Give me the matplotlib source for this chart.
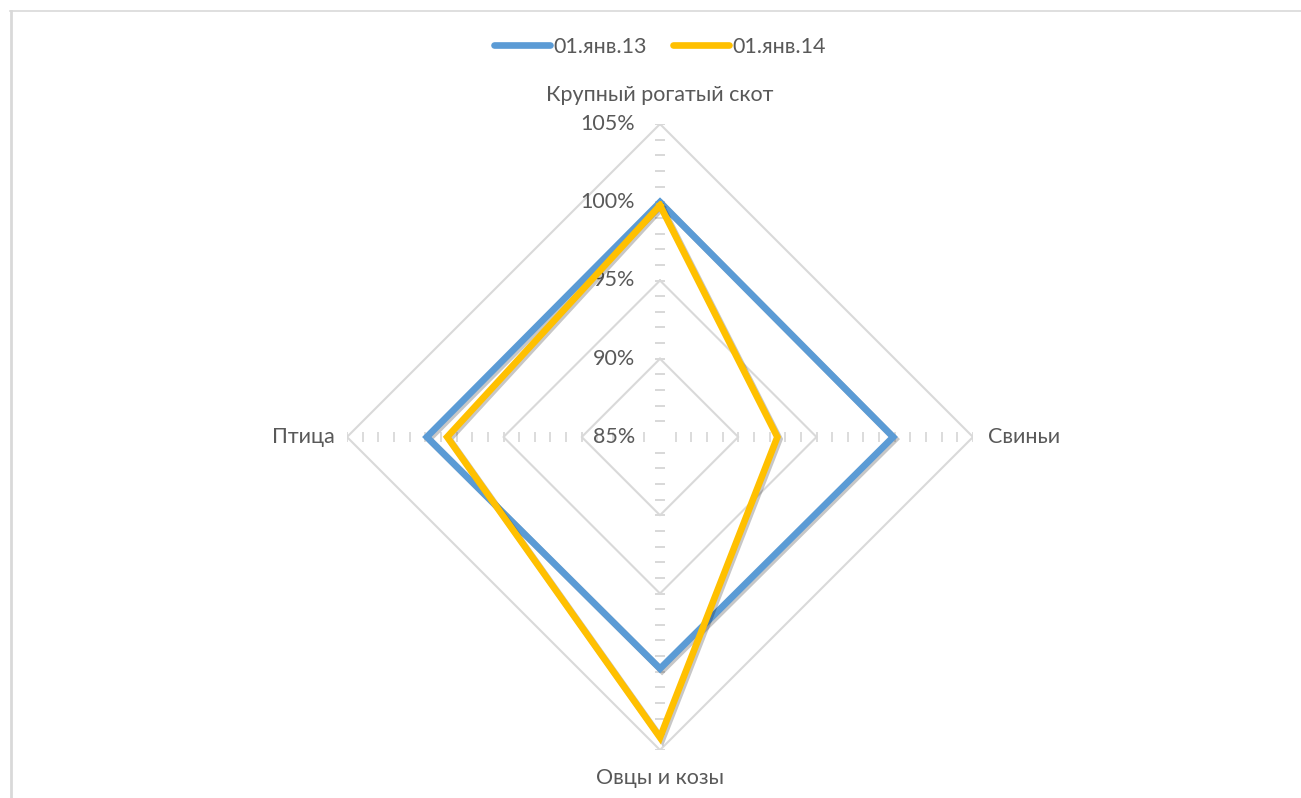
import numpy as np
import matplotlib
matplotlib.use('Agg')
import matplotlib.pyplot as plt
import matplotlib.patheffects as pe
from matplotlib.lines import Line2D

plt.rcParams['font.family'] = ['Lato', 'DejaVu Sans']

# data
categories = ['Крупный рогатый скот', 'Свиньи', 'Овцы и козы', 'Птица']
series_names = ['01.янв.13', '01.янв.14']
jan13 = [100.0, 99.9, 99.8, 99.9]
jan14 = [99.8, 92.5, 104.2, 98.6]
levels = [85, 90, 95, 100, 105]
level_labels = ['85%', '90%', '95%', '100%', '105%']

blue = '#5B9BD5'
yellow = '#FFC000'
grid_c = '#D9D9D9'
text_c = '#595959'
fs = 15.5

W, H = 1301, 798
fig = plt.figure(figsize=(W / 100, H / 100), dpi=100)

# chart frame (only top and left visible)
fig.add_artist(Line2D([10 / W, 1], [1 - 11 / H, 1 - 11 / H], color=grid_c, lw=1.2))
fig.add_artist(Line2D([11 / W, 11 / W], [0, 1 - 11 / H], color=grid_c, lw=2))

cx, cy, R = 660, 437, 313
ax = fig.add_axes([(cx - R) / W, (H - cy - R) / H, 2 * R / W, 2 * R / H], projection='polar')
ax.set_theta_zero_location('N')
ax.set_theta_direction(-1)
ax.set_ylim(85, 105)
ax.grid(False)
ax.spines['polar'].set_visible(False)
ax.set_xticks([])
ax.set_yticks([])
ax.patch.set_alpha(0)

n = len(categories)
theta = np.arange(n) * 2 * np.pi / n
theta_closed = np.append(theta, theta[0])

# diamond grid
for lv in levels[1:]:
    ax.plot(theta_closed, [lv] * (n + 1), color=grid_c, lw=1.5, zorder=1)

# minor tick dashes along spokes (every 1%)
minor = np.arange(86, 106, 1)
for i, t in enumerate(theta):
    mk = '_' if i % 2 == 0 else '|'
    ax.plot([t] * len(minor), minor, ls='none', marker=mk, ms=7.5, mew=1.3,
            color=grid_c, zorder=1)

# value labels along top spoke
for lv, lab in zip(levels, level_labels):
    ax.annotate(lab, xy=(0, lv), xytext=(-18, 0), textcoords='offset points',
                ha='right', va='center', fontsize=fs, color=text_c)

shadow = [pe.SimpleLineShadow(offset=(1.5, -1.5), shadow_color='#000000', alpha=0.22), pe.Normal()]
ax.plot(theta_closed, jan13 + jan13[:1], color=blue, lw=4.8, solid_joinstyle='miter',
        zorder=3, path_effects=shadow, label=series_names[0])
ax.plot(theta_closed, jan14 + jan14[:1], color=yellow, lw=4.8, solid_joinstyle='miter',
        zorder=4, path_effects=shadow, label=series_names[1])

# category labels
ax.annotate(categories[0], xy=(0, 105), xytext=(0, 21), textcoords='offset points',
            ha='center', va='center', fontsize=fs, color=text_c)
ax.annotate(categories[1], xy=(theta[1], 105), xytext=(11, 0), textcoords='offset points',
            ha='left', va='center', fontsize=fs, color=text_c)
ax.annotate(categories[2], xy=(theta[2], 105), xytext=(0, -20), textcoords='offset points',
            ha='center', va='center', fontsize=fs, color=text_c)
ax.annotate(categories[3], xy=(theta[3], 105), xytext=(-9, 0), textcoords='offset points',
            ha='right', va='center', fontsize=fs, color=text_c)

leg = fig.legend(loc='center', bbox_to_anchor=(cx / W, 1 - 47 / H), ncol=2, frameon=False,
                 fontsize=fs, handlelength=2.6, handletextpad=0.15, columnspacing=1.2,
                 labelcolor=text_c)
for h in leg.legend_handles:
    h.set_path_effects([])
    h.set_solid_capstyle('round')

fig.savefig('out.png', dpi=100)
